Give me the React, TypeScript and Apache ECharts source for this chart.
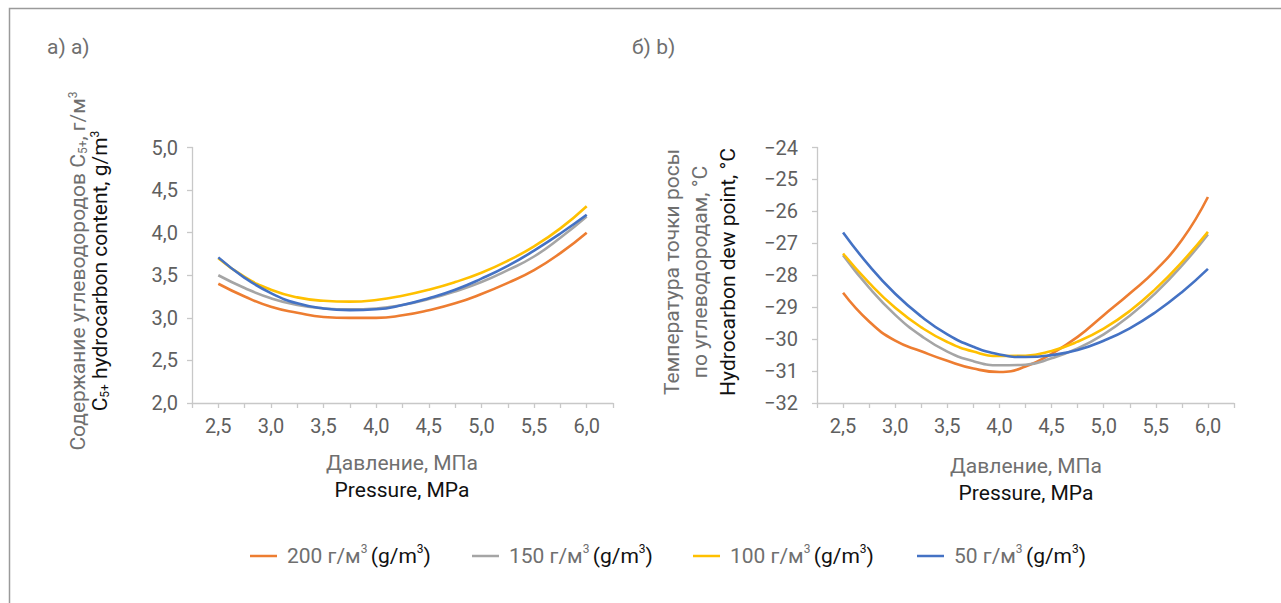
import React, { useEffect, useRef } from "react";
import * as echarts from "echarts";

const PRESSURE = [2.5, 2.75, 3.0, 3.25, 3.5, 3.75, 4.0, 4.25, 4.5, 4.75, 5.0, 5.25, 5.5, 5.75, 6.0];

const SERIES_NAMES = ["200", "150", "100", "50"];
const SERIES_COLORS = ["#ED7D31", "#A5A5A5", "#FFC000", "#4472C4"];

// (a) C5+ hydrocarbon content, g/m3
const CONTENT_200 = [3.40, 3.25, 3.13, 3.06, 3.01, 3.00, 3.00, 3.03, 3.09, 3.17, 3.28, 3.41, 3.56, 3.76, 4.00];
const CONTENT_150 = [3.50, 3.35, 3.23, 3.15, 3.11, 3.10, 3.11, 3.15, 3.22, 3.31, 3.42, 3.56, 3.72, 3.94, 4.19];
const CONTENT_100 = [3.70, 3.48, 3.33, 3.24, 3.20, 3.19, 3.21, 3.26, 3.33, 3.42, 3.53, 3.67, 3.84, 4.05, 4.31];
const CONTENT_50 = [3.71, 3.47, 3.29, 3.17, 3.11, 3.09, 3.10, 3.15, 3.23, 3.33, 3.46, 3.61, 3.79, 3.99, 4.21];

// (b) Hydrocarbon dew point, °C
const DEW_200 = [-28.55, -29.45, -30.05, -30.38, -30.68, -30.92, -31.03, -30.86, -30.46, -29.93, -29.25, -28.57, -27.84, -26.90, -25.55];
const DEW_150 = [-27.37, -28.39, -29.24, -29.90, -30.39, -30.69, -30.82, -30.80, -30.60, -30.29, -29.85, -29.27, -28.55, -27.70, -26.72];
const DEW_100 = [-27.32, -28.24, -29.02, -29.63, -30.09, -30.39, -30.53, -30.52, -30.37, -30.08, -29.67, -29.12, -28.42, -27.59, -26.64];
const DEW_50 = [-26.66, -27.70, -28.58, -29.29, -29.85, -30.24, -30.48, -30.56, -30.50, -30.34, -30.05, -29.66, -29.15, -28.53, -27.80];

const CONTENT = [CONTENT_200, CONTENT_150, CONTENT_100, CONTENT_50];
const DEW = [DEW_200, DEW_150, DEW_100, DEW_50];

const FONT = "Roboto, 'Noto Sans', sans-serif";
const GREY = "#6f6f6f";
const TICK = "#5f5f5f";
const BLACK = "#111111";
const AXIS = "#c8c8c8";
const FS = 20;
const TS = 21;
const SS = 12;

const richStyles = (size: number, lh: number) => ({
  g: { fill: GREY, color: GREY, fontSize: size, fontFamily: FONT, lineHeight: lh, verticalAlign: "middle" },
  gsub: { fill: GREY, color: GREY, fontSize: SS, fontFamily: FONT, lineHeight: 12, verticalAlign: "bottom" },
  gsup: { fill: GREY, color: GREY, fontSize: SS, fontFamily: FONT, lineHeight: 14, verticalAlign: "top" },
  b: { fill: BLACK, color: BLACK, fontSize: size, fontFamily: FONT, lineHeight: lh, verticalAlign: "middle" },
  bsub: { fill: BLACK, color: BLACK, fontSize: SS, fontFamily: FONT, lineHeight: 12, verticalAlign: "bottom" },
  bsup: { fill: BLACK, color: BLACK, fontSize: SS, fontFamily: FONT, lineHeight: 14, verticalAlign: "top" },
});

const commaFmt = (v: number) => v.toFixed(1).replace(".", ",");
const halfFmt = (v: number) => (Math.abs(v * 2 - Math.round(v * 2)) < 1e-6 ? commaFmt(v) : "");
const minusFmt = (v: number) => (v < 0 ? "\u2212" + Math.abs(v) : String(v));

export default function App() {
  const ref = useRef<HTMLDivElement>(null);
  useEffect(() => {
    if (!ref.current) return;
    const chart = echarts.init(ref.current, undefined, { renderer: "svg" });

    const xAxisBase = {
      type: "value",
      min: 2.25,
      max: 6.25,
      interval: 0.25,
      splitLine: { show: false },
      axisLine: { show: true, lineStyle: { color: AXIS, width: 1.3 } },
      axisTick: { show: true, length: 5, lineStyle: { color: AXIS, width: 1.3 } },
      axisLabel: { formatter: halfFmt, color: TICK, fontSize: FS, fontFamily: FONT, margin: 13 },
    };
    const yAxisBase = {
      type: "value",
      splitLine: { show: false },
      axisLine: { show: true, lineStyle: { color: AXIS, width: 1.3 } },
      axisTick: { show: true, length: 5, lineStyle: { color: AXIS, width: 1.3 } },
    };

    const series: any[] = [];
    [CONTENT, DEW].forEach((set, gi) => {
      set.forEach((vals, si) => {
        series.push({
          name: SERIES_NAMES[si],
          type: "line",
          xAxisIndex: gi,
          yAxisIndex: gi,
          data: PRESSURE.map((p, i) => [p, vals[i]]),
          smooth: true,
          symbol: "none",
          showSymbol: false,
          color: SERIES_COLORS[si],
          lineStyle: { width: 2.6, color: SERIES_COLORS[si] },
          z: 2 + si,
        });
      });
    });

    const legendX = [245, 467, 688, 912];
    const legends = SERIES_NAMES.map((n, i) => ({
      data: [n],
      left: legendX[i],
      top: 538,
      icon: "rect",
      itemWidth: 27,
      itemHeight: 2.5,
      selectedMode: false,
      formatter: (name: string) => `{g|${name} г/м}{gsup|3} {b|(g/m}{bsup|3}{b|)}`,
      textStyle: {
        padding: [0, 0, 0, 5],
        rich: {
          g: { color: GREY, fontSize: TS, fontFamily: FONT, lineHeight: 26, verticalAlign: "middle" },
          gsup: { color: GREY, fontSize: SS, fontFamily: FONT, lineHeight: 16, verticalAlign: "top" },
          b: { color: BLACK, fontSize: TS, fontFamily: FONT, lineHeight: 26, verticalAlign: "middle" },
          bsup: { color: BLACK, fontSize: SS, fontFamily: FONT, lineHeight: 16, verticalAlign: "top" },
        },
      },
    }));

    const rich = richStyles(TS, 27);

    chart.setOption({
      animation: false,
      backgroundColor: "#ffffff",
      grid: [
        { left: 192, top: 147.5, width: 421, height: 255.5, containLabel: false },
        { left: 817, top: 147.5, width: 417, height: 255.5, containLabel: false },
      ],
      xAxis: [
        { ...xAxisBase, gridIndex: 0 },
        { ...xAxisBase, gridIndex: 1 },
      ],
      yAxis: [
        {
          ...yAxisBase,
          gridIndex: 0,
          min: 2,
          max: 5,
          interval: 0.5,
          axisLabel: { formatter: commaFmt, color: TICK, fontSize: FS, fontFamily: FONT, margin: 14 },
        },
        {
          ...yAxisBase,
          gridIndex: 1,
          min: -32,
          max: -24,
          interval: 1,
          axisLabel: { formatter: minusFmt, color: TICK, fontSize: FS, fontFamily: FONT, margin: 19 },
        },
      ],
      legend: legends,
      series,
      graphic: [
        {
          type: "rect",
          shape: { x: 9.5, y: 8.5, width: 1400, height: 700 },
          style: { fill: "none", stroke: "#9a9a9a", lineWidth: 1.5 },
          silent: true,
        },
        {
          type: "text",
          x: 47,
          y: 47,
          style: { text: "а) a)", fill: GREY, fontSize: TS, fontFamily: FONT, align: "left", verticalAlign: "middle" },
        },
        {
          type: "text",
          x: 632,
          y: 47,
          style: { text: "б) b)", fill: GREY, fontSize: TS, fontFamily: FONT, align: "left", verticalAlign: "middle" },
        },
        {
          type: "text",
          x: 402,
          y: 476,
          style: {
            text: "{g|Давление, МПа}\n{b|Pressure, MPa}",
            rich,
            align: "center",
            verticalAlign: "middle",
          },
        },
        {
          type: "text",
          x: 1026,
          y: 479,
          style: {
            text: "{g|Давление, МПа}\n{b|Pressure, MPa}",
            rich,
            align: "center",
            verticalAlign: "middle",
          },
        },
        {
          type: "text",
          x: 89,
          y: 271,
          rotation: Math.PI / 2,
          style: {
            text:
              "{g|Содержание углеводородов C}{gsub|5+}{g|, г/м}{gsup|3}\n{b|C}{bsub|5+}{b| hydrocarbon content, g/m}{bsup|3}",
            rich: richStyles(TS, 22),
            align: "center",
            verticalAlign: "middle",
          },
        },
        {
          type: "text",
          x: 700,
          y: 272,
          rotation: Math.PI / 2,
          style: {
            text: "{g|Температура точки росы}\n{g|по углеводородам, °C}\n{b|Hydrocarbon dew point, °C}",
            rich: richStyles(TS, 28),
            align: "center",
            verticalAlign: "middle",
          },
        },
      ],
    });
    return () => chart.dispose();
  }, []);
  return (
    <div
      ref={ref}
      style={{ position: "fixed", left: 0, top: 0, width: 1281, height: 603, background: "#fff" }}
    />
  );
}
